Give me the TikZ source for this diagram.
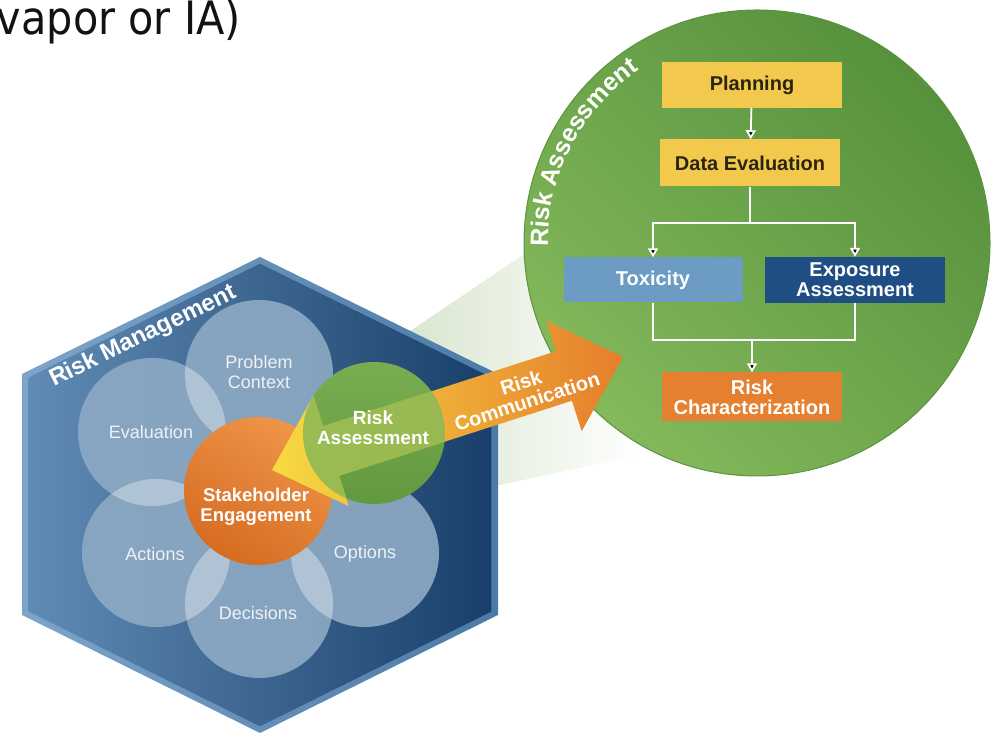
\documentclass[tikz,border=0pt]{standalone}
\usepackage{fontspec}
\setmainfont{Liberation Sans}
\newfontfamily\titlefont{DejaVu Sans}
\usetikzlibrary{arrows.meta,decorations.text,calc,fadings}
\definecolor{hexL}{HTML}{5F8BB5}
\definecolor{hexM}{HTML}{2E5E8E}
\definecolor{hexR}{HTML}{183F69}
\definecolor{rimL}{HTML}{7EA4C8}
\definecolor{rimR}{HTML}{4A7BA8}
\definecolor{petalc}{HTML}{8CA8C3}
\definecolor{petaltext}{HTML}{EDF2F7}
\definecolor{seA}{HTML}{EE9548}
\definecolor{seB}{HTML}{D66C22}
\definecolor{raA}{HTML}{78AE50}
\definecolor{raB}{HTML}{62993F}
\definecolor{bgTop}{HTML}{56913C}
\definecolor{bgBot}{HTML}{84B95B}
\definecolor{bgEdge}{HTML}{5A9440}
\definecolor{beamG}{HTML}{D2E1C5}
\definecolor{ybox}{HTML}{F2C94C}
\definecolor{ytext}{HTML}{2A2410}
\definecolor{toxc}{HTML}{6C9BC4}
\definecolor{expc}{HTML}{1F4E84}
\definecolor{rcc}{HTML}{E4802F}
\definecolor{arL}{HTML}{F6DA42}
\definecolor{arR}{HTML}{E67E2C}
\definecolor{tint}{HTML}{8DBA55}
\newcommand\arcfont{\bfseries\fontsize{25}{25}\selectfont}
\begin{document}
\begin{tikzpicture}[x=1pt,y=1pt,
  petal/.style={circle, minimum size=148pt, inner sep=0pt, fill=petalc, fill opacity=0.92},
  ptext/.style={text=petaltext, font=\fontsize{18}{20}\selectfont, align=center},
  btext/.style={text=white, font=\bfseries\fontsize{19}{20}\selectfont, align=center},
  fbox/.style={minimum width=180pt, minimum height=46pt, inner sep=0pt, align=center, font=\bfseries\fontsize{20}{20}\selectfont},
  wline/.style={draw=white, line width=1.8pt},
  warrow/.style={wline, -{Triangle[width=10pt,length=9pt]}},
  lens/.style={fill=white, fill opacity=0.32},
]
\useasboundingbox (0,0) rectangle (1001,735);

% title fragment
\node[anchor=base east, inner sep=0pt, xscale=0.9, font=\titlefont\fontsize{46}{48}\selectfont, text=black!93] (title) at (241,700) {vapor or IA)};

% faint beam towards the big circle
\fill[beamG, path fading=east] (360,370) -- (530,485) -- (640,280) -- (430,235) -- cycle;

% big circle
\node[circle, minimum size=466pt, inner sep=0pt, draw=bgEdge, line width=1pt,
      top color=bgTop, bottom color=bgBot, shading angle=-45] (bigc) at (757,492) {};
\coordinate (arcstart) at ($(bigc.center)+(181:209)$);
\path[decorate, decoration={text along path, text={|\arcfont|Risk Assessment}, text color=white}]
  (arcstart) arc[start angle=181, end angle=112, radius=209];

% flowchart boxes
\node[fbox, fill=ybox, text=ytext] (plan) at (752,650) {Planning};
\node[fbox, fill=ybox, text=ytext, minimum height=47pt] (deval) at (750,572) {Data Evaluation};
\node[fbox, fill=toxc, text=white, minimum width=179pt, minimum height=45pt] (tox) at (653,455) {Toxicity};
\node[fbox, fill=expc, text=white] (exp) at (855,455) {Exposure\\Assessment};
\node[fbox, fill=rcc, text=white, minimum height=49pt] (rc) at (752,338) {Risk\\Characterization};

\draw[warrow] (plan) -- (deval);
\coordinate (split) at (750,512);
\draw[wline] (deval.south) -- (split);
\draw[warrow] (split) -| (tox);
\draw[warrow] (split) -| (exp);
\coordinate (merge) at (752,395);
\draw[wline] (tox.south) -- (tox.south |- merge) -- (exp.south |- merge) -- (exp.south);
\draw[warrow] (merge) -- (rc);

% hexagon
\shade[left color=rimL, right color=rimR] (260,478) -- (22,361) -- (22,120) -- (260,2) -- (498,120) -- (498,361) -- cycle;
\shade[left color=hexL, middle color=hexM, right color=hexR] (260,471.3) -- (28.7,357.6) -- (28.7,123.4) -- (260,8.7) -- (491.3,123.4) -- (491.3,357.6) -- cycle;
\node[anchor=base, rotate=26, text=white, font=\bfseries\fontsize{24}{24}\selectfont, inner sep=0pt] (rm) at (146,393) {Risk Management};

% petals
\node[petal] (pc) at (259,361) {};
\node[petal] (ev) at (152,303) {};
\node[petal] (ac) at (156,182) {};
\node[petal] (de) at (259,131) {};
\node[petal] (op) at (365,182) {};
% lighter overlaps of neighbouring petals
\begin{scope}\clip (259,361) circle (74); \fill[lens] (152,303) circle (74);\end{scope}
\begin{scope}\clip (152,303) circle (74); \fill[lens] (156,182) circle (74);\end{scope}
\begin{scope}\clip (156,182) circle (74); \fill[lens] (259,131) circle (74);\end{scope}
\begin{scope}\clip (259,131) circle (74); \fill[lens] (365,182) circle (74);\end{scope}
\node[ptext] (pct) at (259,363) {Problem\\Context};
\node[ptext] (evt) at (151,303) {Evaluation};
\node[ptext] (act) at (155,181) {Actions};
\node[ptext] (det) at (258,122) {Decisions};
\node[ptext] (opt) at (365,181) {Options};

% stakeholder engagement
\node[circle, minimum size=148pt, inner sep=0pt, top color=seA, bottom color=seB, shading angle=-30] (se) at (258,244) {};
\node[btext, font=\bfseries\fontsize{18.5}{20}\selectfont] (set) at (256,228) {Stakeholder\\Engagement};

% small risk assessment circle
\node[circle, minimum size=142pt, inner sep=0pt, top color=raA, bottom color=raB] (ra) at (374,302) {};

% double arrow
\begin{scope}[shift={(272,265)}, rotate=17.85]
\shade[left color=arL, right color=arR] (0,0) -- (62,58) -- (62,26) -- (306.7,26) -- (306.7,58) -- (368.7,0) -- (306.7,-58) -- (306.7,-26) -- (62,-26) -- (62,-58) -- cycle;
\end{scope}
\begin{scope}
\clip (374,302) circle (71);
\begin{scope}[shift={(272,265)}, rotate=17.85]
\fill[tint, fill opacity=0.88] (0,0) -- (62,58) -- (62,26) -- (306.7,26) -- (306.7,58) -- (368.7,0) -- (306.7,-58) -- (306.7,-26) -- (62,-26) -- (62,-58) -- cycle;
\end{scope}
\end{scope}

\node[btext] (rat) at (373,307) {Risk\\Assessment};
\node[btext, font=\bfseries\fontsize{20}{20}\selectfont, rotate=18] (rct) at (524,343) {Risk\\Communication};
\end{tikzpicture}
\end{document}
